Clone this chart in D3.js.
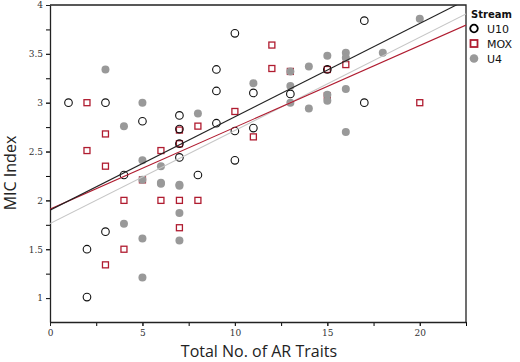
<!DOCTYPE html>
<html>
<head>
<meta charset="utf-8">
<script src="https://cdn.jsdelivr.net/npm/d3@7"></script>
<style>
  body { margin: 0; background: #fff; }
  svg { display: block; }
</style>
</head>
<body>
<div id="chart"></div>
<script>
// data: [AR traits, MIC index]
var u10 = [[1,3.0],[3,3.0],[2,1.5],[2,1.01],[3,1.68],[4,2.26],[5,2.81],[7,2.87],[7,2.73],[7,2.58],
  [7,2.44],[8,2.26],[9,3.34],[9,3.12],[9,2.79],[10,3.71],[10,2.71],[10,2.41],[11,3.10],[11,2.74],
  [13,3.09],[15,3.34],[17,3.84],[17,3.0]];
var mox = [[2,3.0],[2,2.51],[3,2.68],[3,2.35],[3,1.34],[4,2.0],[4,1.5],[5,2.21],[6,2.51],[6,2.0],
  [7,2.72],[7,2.58],[7,2.0],[7,1.72],[8,2.76],[8,2.0],[10,2.91],[11,2.65],[12,3.59],[12,3.35],
  [13,3.32],[15,3.34],[15,3.07],[16,3.39],[20,3.0]];
var u4 = [[3,3.34],[4,2.76],[4,1.76],[5,3.0],[5,2.41],[5,2.21],[5,1.61],[5,1.21],[6,2.35],[6,2.18],
  [6,2.17],[7,2.16],[7,2.15],[7,1.87],[7,1.59],[8,2.89],[11,3.20],[13,3.32],[13,3.17],[13,3.0],
  [14,3.37],[14,2.94],[15,3.48],[15,3.08],[15,3.02],[16,3.51],[16,3.46],[16,3.14],[16,2.70],
  [18,3.51],[20,3.86]];
// fit lines: [x0, y0, x1, y1]
var fitU10 = [0, 1.90, 22.5, 4.05];
var fitMOX = [0, 1.91, 22.5, 3.795];
var fitU4 = [0, 1.763, 22.5, 3.908];
var xTicks = [0, 5, 10, 15, 20];
var yTicks = [1, 1.5, 2, 2.5, 3, 3.5, 4];
var legendNames = ["U10", "MOX", "U4"];

var W = 520, H = 362;
var margin = {top: 5, right: 54, bottom: 40, left: 50};
var plotW = W - margin.left - margin.right;
var plotH = H - margin.top - margin.bottom;

var red = "#b01c30", grey = "#999";

var svg = d3.select("#chart").append("svg")
  .attr("width", W).attr("height", H);

var x = d3.scaleLinear().domain([0, 22.5]).range([0, plotW]);
var y = d3.scaleLinear().domain([0.755, 4]).range([plotH, 0]);

var g = svg.append("g").attr("transform", `translate(${margin.left},${margin.top})`);

// clip for the fit lines
g.append("clipPath").attr("id", "clip")
  .append("rect").attr("width", plotW).attr("height", plotH);

// minor ticks
var xMinor = d3.range(0, 22.51, 2.5);
var yMinor = d3.range(1, 4.01, 0.25);
g.append("g").attr("transform", `translate(0,${plotH})`)
  .call(d3.axisBottom(x).tickValues(xMinor).tickSize(4).tickFormat(""))
  .call(a => a.select(".domain").remove());
g.append("g")
  .call(d3.axisLeft(y).tickValues(yMinor).tickSize(4).tickFormat(""))
  .call(a => a.select(".domain").remove());

var xAxis = g.append("g").attr("transform", `translate(0,${plotH})`)
  .call(d3.axisBottom(x).tickValues(xTicks).tickSize(4).tickPadding(4).tickSizeOuter(0).tickFormat(d => d));
var yAxis = g.append("g")
  .call(d3.axisLeft(y).tickValues(yTicks).tickSize(4).tickPadding(3).tickSizeOuter(0).tickFormat(d => d));
[xAxis, yAxis].forEach(function(a) {
  a.selectAll("text").style("font-family", "DejaVu Serif").style("font-size", "9px").attr("fill", "#333");
  a.selectAll("line").attr("stroke", "#222");
  a.select(".domain").attr("stroke", "#222").attr("stroke-width", 1.3);
});

// frame top and right
g.append("path")
  .attr("d", `M0,0H${plotW}V${plotH}`)
  .attr("fill", "none").attr("stroke", "#222").attr("stroke-width", 1.3);

// points: squares, then open circles, then grey dots
var s = 6;
g.selectAll("rect.mox").data(mox).enter().append("rect")
  .attr("class", "mox")
  .attr("x", d => x(d[0]) - s / 2).attr("y", d => y(d[1]) - s / 2)
  .attr("width", s).attr("height", s)
  .attr("fill", "none").attr("stroke", red).attr("stroke-width", 1.3);

g.selectAll("circle.u10").data(u10).enter().append("circle")
  .attr("class", "u10")
  .attr("cx", d => x(d[0])).attr("cy", d => y(d[1])).attr("r", 3.8)
  .attr("fill", "none").attr("stroke", "#111").attr("stroke-width", 1.1);

g.selectAll("circle.u4").data(u4).enter().append("circle")
  .attr("class", "u4")
  .attr("cx", d => x(d[0])).attr("cy", d => y(d[1])).attr("r", 4)
  .attr("fill", grey);

// fit lines
var lines = [[fitU4, "#c6c6c6"], [fitMOX, red], [fitU10, "#222"]];
g.append("g").attr("clip-path", "url(#clip)")
  .selectAll("line").data(lines).enter().append("line")
  .attr("x1", d => x(d[0][0])).attr("y1", d => y(d[0][1]))
  .attr("x2", d => x(d[0][2])).attr("y2", d => y(d[0][3]))
  .attr("stroke", d => d[1]).attr("stroke-width", 1.1);

// axis titles
svg.append("text")
  .attr("x", margin.left + x(11.3)).attr("y", 357)
  .attr("text-anchor", "middle")
  .style("font-family", "Open Sans").style("font-size", "16px").attr("fill", "#222")
  .text("Total No. of AR Traits");
svg.append("text")
  .attr("transform", `translate(16,${173}) rotate(-90)`)
  .attr("text-anchor", "middle")
  .style("font-family", "Open Sans").style("font-size", "16px").attr("fill", "#222")
  .text("MIC Index");

// legend
var leg = svg.append("g").attr("transform", "translate(471,0)");
leg.append("text").attr("x", 0).attr("y", 18)
  .style("font-family", "DejaVu Sans").style("font-size", "10px").style("font-weight", "bold")
  .attr("fill", "#111").text("Stream");
var items = leg.selectAll("g.item").data(legendNames).enter().append("g")
  .attr("class", "item")
  .attr("transform", (d, i) => `translate(0,${28.5 + i * 15})`);
items.each(function(d, i) {
  var it = d3.select(this);
  if (i === 0) it.append("circle").attr("cx", 3).attr("r", 3.8).attr("fill", "none").attr("stroke", "#000").attr("stroke-width", 1.8);
  if (i === 1) it.append("rect").attr("x", -0.5).attr("y", -3.5).attr("width", 7).attr("height", 7).attr("fill", "none").attr("stroke", red).attr("stroke-width", 1.8);
  if (i === 2) it.append("circle").attr("cx", 3).attr("r", 4.3).attr("fill", grey);
});
items.append("text").attr("x", 16).attr("y", 4.5)
  .style("font-family", "DejaVu Sans").style("font-size", "11px").attr("fill", "#111")
  .text(d => d);
</script>
</body>
</html>
